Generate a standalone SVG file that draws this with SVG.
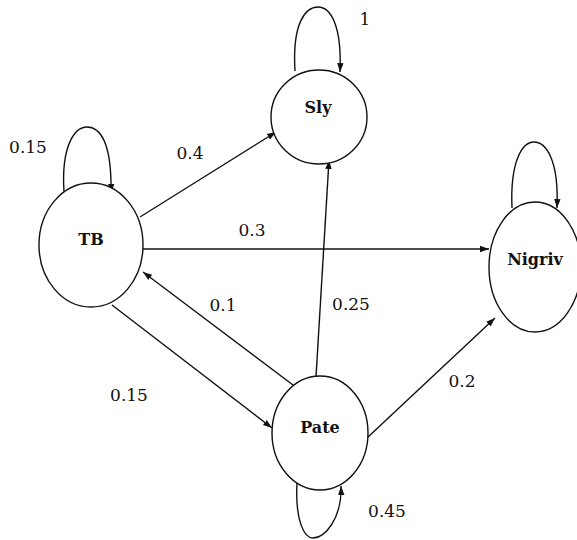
<svg xmlns="http://www.w3.org/2000/svg" width="577" height="540" viewBox="0 0 577 540">
  <style>
    .node { fill: #ffffff; stroke: #111111; stroke-width: 1.4; }
    .edge { fill: none; stroke: #111111; stroke-width: 1.4; marker-end: url(#arrow); }
    .name { font-family: "DejaVu Serif", "Liberation Serif", serif; font-size: 16px; font-weight: bold; fill: #111111; text-anchor: middle; }
    .prob { font-family: "DejaVu Serif", "Liberation Serif", serif; font-size: 17px; fill: #111111; text-anchor: middle; }
  </style>
  <defs>
    <marker id="arrow" markerUnits="userSpaceOnUse" markerWidth="10" markerHeight="8" refX="9" refY="4" orient="auto">
      <path d="M0,0.8 L9,4 L0,7.2 Z" fill="#111111"/>
    </marker>
  </defs>
  <rect width="577" height="540" fill="#ffffff"/>

  <g id="connectors">
    <!-- self loops -->
    <path class="edge" d="M295,71 C292,22 306,7 318,7 C330,7 342,24 340,72"/>
    <path class="edge" d="M64,192 C61,145 75,127 87,127 C99,127 112,140 111,193"/>
    <path class="edge" d="M512,208 C510,162 522,142 534,142 C546,142 559,160 557,208"/>
    <path class="edge" d="M297,483 C295,520 304,538 313,538 C324,538 342,520 341,486"/>
    <!-- transitions -->
    <path class="edge" d="M140,217 L276,132"/>
    <path class="edge" d="M143,249 L489,249"/>
    <path class="edge" d="M316,377 L329,160"/>
    <path class="edge" d="M293,385 L143,272"/>
    <path class="edge" d="M112,305 L272,428"/>
    <path class="edge" d="M368,437 L495,318"/>
  </g>

  <g id="node-sly">
    <ellipse class="node" cx="319" cy="117" rx="48" ry="47"/>
    <text class="name" x="318" y="113">Sly</text>
  </g>
  <g id="node-tb">
    <ellipse class="node" cx="91" cy="245" rx="52" ry="62"/>
    <text class="name" x="91" y="245">TB</text>
  </g>
  <g id="node-nigriv">
    <ellipse class="node" cx="535" cy="267" rx="46" ry="65"/>
    <text class="name" x="535" y="265">Nigriv</text>
  </g>
  <g id="node-pate">
    <ellipse class="node" cx="320" cy="433" rx="48" ry="57"/>
    <text class="name" x="320" y="433">Pate</text>
  </g>

  <g id="labels">
    <text class="prob" x="365" y="25">1</text>
    <text class="prob" x="28" y="153">0.15</text>
    <text class="prob" x="190" y="159">0.4</text>
    <text class="prob" x="252" y="236">0.3</text>
    <text class="prob" x="223" y="311">0.1</text>
    <text class="prob" x="351" y="310">0.25</text>
    <text class="prob" x="129" y="401">0.15</text>
    <text class="prob" x="462" y="387">0.2</text>
    <text class="prob" x="387" y="517">0.45</text>
  </g>
</svg>
